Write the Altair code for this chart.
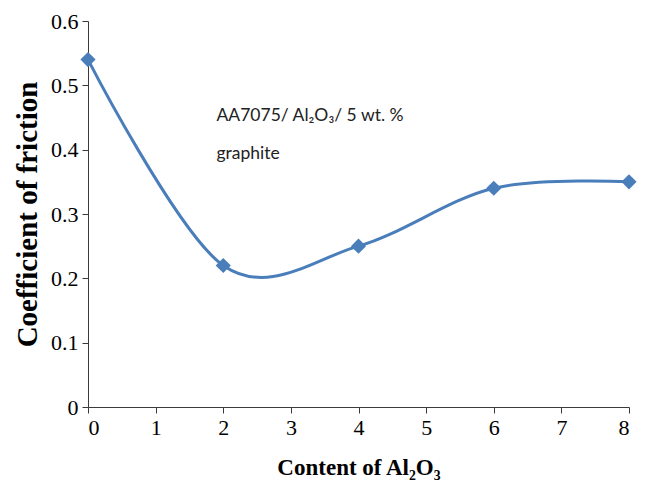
import altair as alt
import pandas as pd

content = [0, 2, 4, 6, 8]
cof = [0.54, 0.22, 0.25, 0.34, 0.35]
x_ticks = [0, 1, 2, 3, 4, 5, 6, 7, 8]
y_ticks = [0, 0.1, 0.2, 0.3, 0.4, 0.5, 0.6]
note_lines = ["AA7075/ Al\u2082O\u2083/ 5 wt. %", "graphite"]
note_x = [1.9]
note_y = [0.445]

df = pd.DataFrame({"x": content, "y": cof})
note_df = pd.DataFrame({"x": note_x, "y": note_y, "t": [note_lines]})

blue = "#4A7EBB"
axis_col = "#3a3a3a"

xenc = alt.X("x:Q", scale=alt.Scale(domain=[0, 8], nice=False, zero=False),
             axis=alt.Axis(values=x_ticks, format="d", title="Content of Al\u2082O\u2083",
                           grid=False, domainColor=axis_col, tickColor=axis_col,
                           tickSize=6, labelFont="Liberation Serif", labelFontSize=22,
                           labelColor="#000", labelPadding=4,
                           titleFont="Liberation Serif", titleFontSize=23, titleFontWeight="bold",
                           titleColor="#000", titlePadding=18))
yenc = alt.Y("y:Q", scale=alt.Scale(domain=[0, 0.6], nice=False),
             axis=alt.Axis(values=y_ticks, format="~g", title="Coefficient  of friction",
                           grid=False, domainColor=axis_col, tickColor=axis_col,
                           tickSize=6, labelFont="Liberation Serif", labelFontSize=22,
                           labelColor="#000", labelPadding=4,
                           titleFont="Liberation Serif", titleFontSize=29, titleFontWeight="bold",
                           titleColor="#000", titlePadding=8))

line = alt.Chart(df).mark_line(interpolate="cardinal", color=blue, strokeWidth=3).encode(x=xenc, y=yenc)
pts = alt.Chart(df).mark_point(shape="diamond", filled=True, color=blue, size=230, opacity=1).encode(x="x:Q", y="y:Q")
note = alt.Chart(note_df).mark_text(align="left", baseline="alphabetic", font="Lato", fontSize=17.5,
                                    color="#222", lineHeight=38).encode(x="x:Q", y="y:Q", text="t")

chart = (line + pts + note).properties(
    width=541, height=386,
    autosize=alt.AutoSizeParams(type="none"),
    padding={"left": 80, "top": 13, "right": 12, "bottom": 82},
).configure_view(stroke=None)

chart.save("out.html", embed_options={"renderer": "svg", "actions": False})
